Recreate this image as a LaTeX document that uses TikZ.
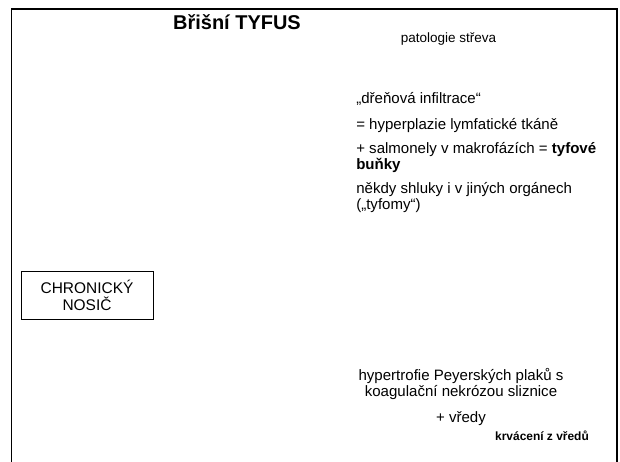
\documentclass[tikz,border=0pt]{standalone}
\usepackage{fontspec}
\setmainfont{Liberation Sans}
\tikzset{
  txt/.style={shape=rectangle, inner sep=0, anchor=base},
  body/.style={txt, anchor=base west, align=left, font=\fontsize{10.7}{11.4}\selectfont},
}
\begin{document}
\begin{tikzpicture}
          \useasboundingbox (0, 0) rectangle (15.5, 11.55);
          % Frame of the slide:
          \draw[line width=1.4pt] (0.2875, -0.2) -- (0.2875, 11.325) -- (15.425, 11.325) -- (15.425, -0.2);
          % Titles:
          \node[txt, font=\fontsize{14.2}{17}\selectfont\bfseries] (title) at (5.925, 10.8){Břišní TYFUS};
          \node[txt, font=\fontsize{9.6}{11}\selectfont] (pathology) at (11.2125, 10.475){patologie střeva};
          % Right column (multi-line nodes sit on their last baseline):
          \node[body] (infiltrace) at (8.9, 8.95){„dřeňová infiltrace“};
          \node[body] (hyperplazie) at (8.9, 8.3){= hyperplazie lymfatické tkáně};
          \node[body] (salmonely) at (8.9, 7.3){+ salmonely v makrofázích = \textbf{tyfové}\\\textbf{buňky}};
          \node[body] (shluky) at (8.9, 6.3){někdy shluky i v jiných orgánech\\(„tyfomy“)};
          % Carrier box:
          \node[shape=rectangle, draw, line width=0.7pt, inner sep=0, minimum width=3.3cm, minimum height=1.2cm, align=center, font=\fontsize{11}{12.1}\selectfont] (nosic) at (2.175, 4.175){CHRONICKÝ\\NOSIČ};
          % Bottom:
          \node[txt, align=center, font=\fontsize{10.7}{11.4}\selectfont] (peyer) at (11.525, 1.625){hypertrofie Peyerských plaků s\\koagulační nekrózou sliznice};
          \node[txt, font=\fontsize{10.7}{11.4}\selectfont] (vredy) at (11.525, 0.975){+ vředy};
          \node[txt, font=\fontsize{8.5}{10}\selectfont\bfseries] (krvaceni) at (13.55, 0.525){krvácení z vředů};
        \end{tikzpicture}
\end{document}
